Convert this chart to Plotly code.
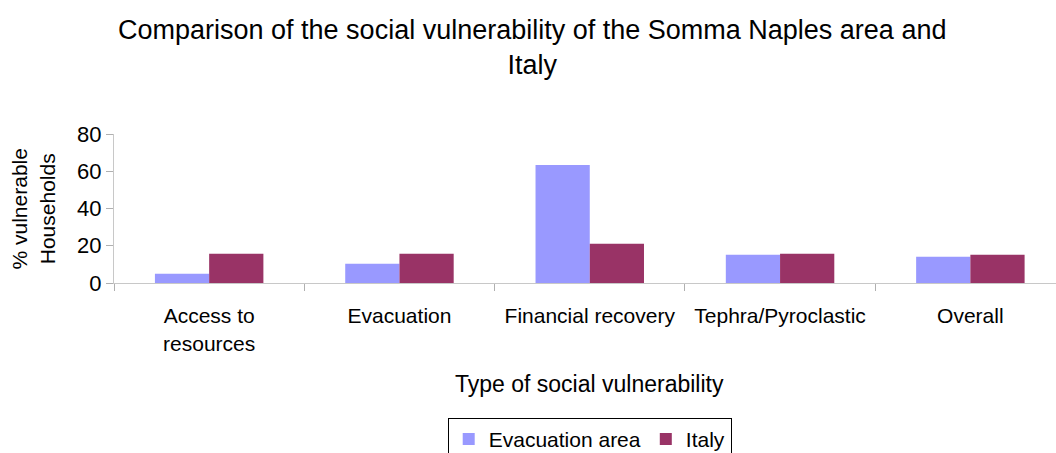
import plotly.graph_objects as go

categories = ["Access to resources", "Evacuation", "Financial recovery", "Tephra/Pyroclastic", "Overall"]
tick_labels = ["Access to<br>resources", "Evacuation", "Financial recovery", "Tephra/Pyroclastic", "Overall"]
evacuation_area = [5.0, 10.3, 63.4, 15.2, 14.1]
italy = [15.7, 15.7, 21.1, 15.7, 15.2]

FONT = "Liberation Sans, Arial, sans-serif"

fig = go.Figure()
fig.add_trace(go.Bar(x=categories, y=evacuation_area, name="Evacuation area",
                     marker=dict(color="#9999FF", line=dict(width=0))))
fig.add_trace(go.Bar(x=categories, y=italy, name="Italy",
                     marker=dict(color="#993366", line=dict(width=0))))

fig.update_layout(
    width=1056, height=453,
    margin=dict(l=114, r=0, t=134, b=170, autoexpand=False),
    paper_bgcolor="white", plot_bgcolor="white",
    font=dict(family=FONT, size=21, color="black"),
    barmode="group", bargap=0.43, bargroupgap=0,
    title=dict(text="Comparison of the social vulnerability of the Somma Naples area and<br>Italy",
               x=0.504, xanchor="center", y=0.915, yanchor="top",
               font=dict(family=FONT, size=27, color="black")),
    showlegend=True,
    legend=dict(orientation="h", x=0.505, xanchor="center", y=-0.905, yanchor="top",
                bordercolor="black", borderwidth=1, font=dict(size=21),
                itemwidth=30, tracegroupgap=0),
    xaxis=dict(type="category", range=[-0.5, 4.45], tickson="boundaries",
               tickvals=categories, ticktext=tick_labels,
               ticks="outside", ticklen=7, tickcolor="#b0b0b0",
               showline=True, linecolor="#c8c8c8", linewidth=1,
               showgrid=False, tickfont=dict(size=21), ticklabelstandoff=14),
    yaxis=dict(range=[0, 80], dtick=20, ticks="outside", ticklen=7, tickcolor="#b0b0b0",
               showline=True, linecolor="#c8c8c8", linewidth=1,
               showgrid=False, zeroline=False, tickfont=dict(size=22)),
    annotations=[
        dict(text="Type of social vulnerability", xref="paper", yref="paper",
             x=0.505, y=-0.58, xanchor="center", yanchor="top", showarrow=False,
             font=dict(size=23)),
        dict(text="% vulnerable<br>Households", xref="paper", yref="paper",
             x=-0.086, y=0.5, xanchor="center", yanchor="middle", textangle=-90,
             showarrow=False, font=dict(size=21)),
    ],
)

fig.write_html("out.html")
